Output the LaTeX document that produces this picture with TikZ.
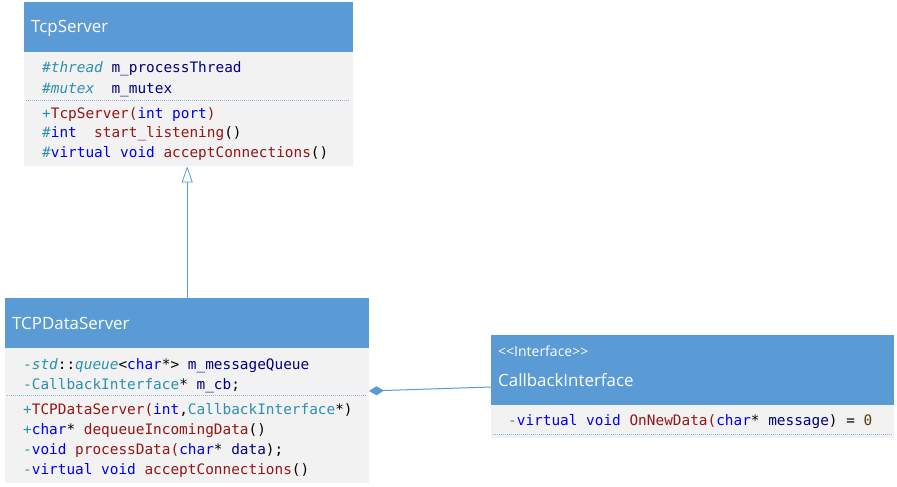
\documentclass[tikz,border=0pt]{standalone}
\usepackage{fontspec}
\setmainfont{Open Sans}
\setmonofont{DejaVu Sans Mono}
\usetikzlibrary{arrows.meta}
\definecolor{hdrblue}{HTML}{5B9BD5}
\definecolor{bodygray}{HTML}{F2F2F2}
\definecolor{sepblue}{HTML}{8FB8E0}
\definecolor{cteal}{HTML}{2B91AF}
\definecolor{ckw}{HTML}{0000F0}
\definecolor{cfn}{HTML}{951515}
\definecolor{cnavy}{HTML}{000080}
\definecolor{cnum}{HTML}{5A3A00}
\definecolor{linkblue}{HTML}{5B9BD5}
\newcommand{\Cp}[1]{\textcolor{cteal}{#1}}
\newcommand{\Ci}[1]{\textcolor{cteal}{\itshape #1}}
\newcommand{\Ck}[1]{\textcolor{ckw}{#1}}
\newcommand{\Cf}[1]{\textcolor{cfn}{#1}}
\newcommand{\Cn}[1]{\textcolor{cnavy}{#1}}
\begin{document}
\begin{tikzpicture}[x=1pt,y=-1pt,
  hdr/.style={draw=none,fill=hdrblue,anchor=north west,inner sep=0pt},
  bodybox/.style={draw=none,fill=bodygray,anchor=north west,inner sep=0pt},
  title/.style={anchor=base west,inner sep=0pt,text=white,font=\fontsize{16.9}{18}\selectfont},
  stereo/.style={anchor=base west,inner sep=0pt,text=white,font=\fontsize{14}{15}\selectfont},
  code/.style={anchor=base west,inner sep=0pt,font=\ttfamily\fontsize{14.4}{16}\selectfont},
  sep/.style={draw=sepblue,line width=1pt,dash pattern=on 1pt off 1pt},
  gen/.style={draw=linkblue,line width=0.8pt,-{Triangle[open,width=11pt,length=16pt,fill=white]}},
  comp/.style={draw=linkblue,line width=1pt,{Diamond[width=9pt,length=15pt,fill=linkblue]}-}]
\useasboundingbox (0,0) rectangle (897,487);
\fill[white] (0,0) rectangle (897,487);

% ---- TcpServer ----
\node[hdr,minimum width=329pt,minimum height=50pt] (tcph) at (24,2) {};
\node[bodybox,minimum width=329pt,minimum height=114pt] (tcpb) at (24,52) {};
\node[title] (tcpt) at (31,33) {TcpServer};
\node[code] (t1) at (42,73) {\Cp{\#}\Ci{thread} \Cn{m\_processThread}};
\node[code] (t2) at (42,93) {\Cp{\#}\Ci{mutex}~~\Cn{m\_mutex}};
\coordinate (ts1) at (26,100);
\coordinate (ts2) at (350,100);
\draw[sep] (ts1) -- (ts2);
\node[code] (t3) at (42,118) {\Cp{+}\Cf{TcpServer(}\Ck{int port}\Cf{)}};
\node[code] (t4) at (42,137) {\Cp{\#}\Ck{int}~~\Cf{start\_listening}()};
\node[code] (t5) at (42,157) {\Cp{\#}\Ck{virtual void} \Cf{acceptConnections}()};

% ---- TCPDataServer ----
\node[hdr,minimum width=364pt,minimum height=50pt] (tdh) at (5,298) {};
\node[bodybox,minimum width=364pt,minimum height=135pt] (tdb) at (5,348) {};
\node[title] (tdt) at (12,329) {TCPDataServer};
\node[code] (d1) at (23,369) {\Cp{-}\Ci{std}::\Ci{queue}<\Ck{char}*> \Cn{m\_messageQueue}};
\node[code] (d2) at (23,389) {\Cp{-CallbackInterface}* \Cn{m\_cb};};
\coordinate (ds1) at (7,395);
\coordinate (ds2) at (367,395);
\draw[sep] (ds1) -- (ds2);
\node[code] (d3) at (23,414) {\Cp{+}\Cf{TCPDataServer(}\Ck{int},\Cp{CallbackInterface}*)};
\node[code] (d4) at (23,434) {\Cp{+}\Ck{char}* \Cf{dequeueIncomingData}()};
\node[code] (d5) at (23,454) {\Cp{-}\Ck{void} \Cf{processData(}\Ck{char}* \Cn{data});};
\node[code] (d6) at (23,474) {\Cp{-}\Ck{virtual void} \Cf{acceptConnections}()};

% ---- CallbackInterface ----
\node[hdr,minimum width=403pt,minimum height=70pt] (cbh) at (491,335) {};
\node[bodybox,minimum width=403pt,minimum height=33pt] (cbb) at (491,405) {};
\node[stereo] (cbs) at (498,356) {{<}{<}Interface{>}{>}};
\node[title] (cbt) at (498,386) {CallbackInterface};
\node[code] (c1) at (508,425) {\Cp{-}\Ck{virtual void} \Cf{OnNewData(}\Ck{char}* \Cn{message}) = \textcolor{cnum}{0}};
\coordinate (cs1) at (493,434);
\coordinate (cs2) at (892,434);
\draw[sep] (cs1) -- (cs2);

% ---- connectors ----
\draw[gen] (tdh.north) -- (tdh.north |- tcpb.south);
\coordinate (dmd) at (369,391);
\coordinate (cbin) at (491,387);
\draw[comp] (dmd) -- (cbin);
\end{tikzpicture}
\end{document}
